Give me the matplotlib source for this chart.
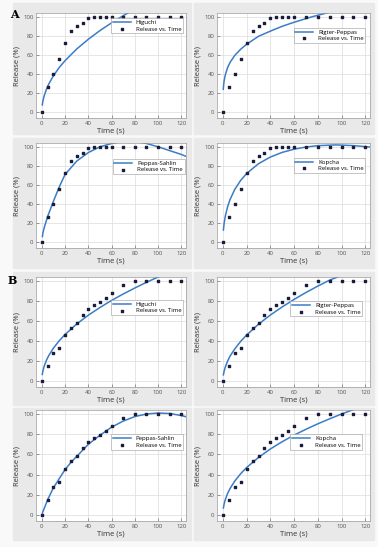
import matplotlib
matplotlib.use('Agg')
import matplotlib.pyplot as plt
from matplotlib.patches import Rectangle

plt.rcParams['font.family'] = ['Open Sans', 'DejaVu Sans']

# measured release data
t_data = [0, 5, 10, 15, 20, 25, 30, 35, 40, 45, 50, 55, 60, 70, 80, 90, 100, 110, 120]
rel_A = [0, 26, 40, 56, 73, 85, 90, 94, 99, 100, 100, 100, 100, 100, 100, 100, 100, 100, 100]
rel_B = [0, 15, 28, 33, 46, 53, 58, 66, 72, 76, 79, 83, 88, 96, 100, 100, 100, 100, 100]

# fitted curves
higA_t = [0.4, 1, 2, 4, 6, 10, 15, 20, 30, 40, 50, 60, 70, 77]
higA_y = [7.7, 12.1, 17.1, 24.2, 29.6, 38.3, 46.9, 54.1, 66.3, 76.5, 85.6, 93.7, 101.2, 106]
rpA_t = [0.3, 0.6, 1, 2, 4, 6, 10, 15, 20, 30, 40, 50, 60, 75, 90]
rpA_y = [24.1, 28.8, 32.9, 39.3, 47.0, 52.2, 59.6, 66.1, 71.3, 79.6, 85.0, 90.1, 94.3, 100, 104.8]
psA_t = [0.5, 1, 2, 5, 10, 15, 20, 30, 40, 50, 60, 70, 80, 90, 100, 110, 120, 125]
psA_y = [6, 10, 15, 27, 43, 58, 71, 85, 94, 100, 103.5, 105.5, 105.5, 103.5, 100, 96, 92, 89.5]
kopA_t = [0.4, 1, 2, 4, 6, 10, 15, 20, 30, 40, 50, 60, 70, 80, 95, 110, 125]
kopA_y = [12.8, 19.8, 27.4, 37.5, 44.8, 55.4, 64.9, 72.1, 82.3, 89.3, 94.2, 97.5, 99.8, 101.2, 102, 101.3, 99.7]

higB_t = [0.4, 1, 2, 4, 6, 10, 15, 20, 30, 40, 50, 60, 70, 80, 90, 101]
higB_y = [6.6, 10.4, 14.7, 20.8, 25.5, 32.9, 40.3, 46.5, 57.0, 65.8, 73.5, 80.6, 87.0, 93.0, 98.7, 104.5]
rpB_t = [0.4, 1, 2, 4, 6, 10, 15, 20, 30, 40, 50, 60, 70, 80, 90, 101]
rpB_y = [6.1, 9.8, 14.0, 20.1, 24.9, 32.1, 39.7, 46.0, 56.8, 66.0, 74.1, 81.6, 88.5, 94.9, 100.9, 106]
psB_t = [0.5, 5, 10, 15, 20, 25, 30, 40, 50, 60, 70, 80, 90, 100, 110, 120, 125]
psB_y = [2, 15, 27, 36, 45, 52, 58, 70, 79, 87, 93, 97.5, 100, 101, 100.5, 98.5, 97]
kopB_t = [0.4, 1, 2, 4, 6, 10, 15, 20, 30, 40, 50, 60, 70, 80, 90, 100, 110]
kopB_y = [6.9, 10.8, 15.3, 21.5, 26.2, 33.6, 40.9, 47.0, 57.0, 65.4, 72.6, 79.1, 84.9, 90.3, 95.3, 100, 104.4]

panels = [
    ('Higuchi', higA_t, higA_y, rel_A),
    ('Rigter-Peppas', rpA_t, rpA_y, rel_A),
    ('Peppas-Sahlin', psA_t, psA_y, rel_A),
    ('Kopcha', kopA_t, kopA_y, rel_A),
    ('Higuchi', higB_t, higB_y, rel_B),
    ('Rigter-Peppas', rpB_t, rpB_y, rel_B),
    ('Peppas-Sahlin', psB_t, psB_y, rel_B),
    ('Kopcha', kopB_t, kopB_y, rel_B),
]
# legend upper-right corner in axes fractions
leg_anchor = [(0.98, 0.95), (0.97, 0.86), (0.99, 0.85), (0.97, 0.86),
              (0.98, 0.79), (0.95, 0.78), (0.98, 0.78), (0.95, 0.78)]

W, H = 378, 547
fig = plt.figure(figsize=(W / 100, H / 100), dpi=100)
fig.patch.set_facecolor('#f9f9f9')

# pixel layout: (top, bottom) of axes and of the grey boxes per row
rows_ax = [(13, 118), (143, 248), (277, 387), (410, 521)]
rows_box = [(3, 134), (138, 268), (272, 405), (408, 540)]
cols_ax = [(36, 186), (217, 370)]
cols_box = [(13, 191), (194, 374)]

for i, (name, ct, cy, rel) in enumerate(panels):
    r, c = divmod(i, 2)
    bt, bb = rows_box[r]
    bl, br = cols_box[c]
    fig.patches.append(Rectangle((bl / W, 1 - bb / H), (br - bl) / W, (bb - bt) / H,
                                 transform=fig.transFigure, color='#e9e9e9', zorder=-10))
    at, ab = rows_ax[r]
    al, ar = cols_ax[c]
    ax = fig.add_axes([al / W, 1 - ab / H, (ar - al) / W, (ab - at) / H])
    ax.set_facecolor('white')
    ax.plot(ct, cy, color='#3a7dc6', lw=1.1, label=name)
    ax.scatter(t_data, rel, s=2.5, marker='s', color='#1c1c3c', label='Release vs. Time', zorder=3)
    ax.set_xlim(-5, 124)
    ax.set_ylim(-6, 104)
    ax.set_xticks(range(0, 121, 20))
    ax.set_yticks(range(0, 101, 20))
    ax.grid(True, color='#dcdcdc', lw=0.5)
    ax.tick_params(labelsize=4.3, colors='#555555', length=2, width=0.4, direction='in', pad=2)
    for s in ax.spines.values():
        s.set_color('#9a9a9a')
        s.set_linewidth(0.5)
    ax.set_xlabel('Time (s)', fontsize=5.5, color='#333333', labelpad=1)
    ax.set_ylabel('Release (%)', fontsize=5.5, color='#333333', labelpad=1.5)
    leg = ax.legend(loc='upper right', bbox_to_anchor=leg_anchor[i], fontsize=4.3,
                    frameon=True, fancybox=False, handlelength=3, borderpad=0.3,
                    labelspacing=0.2, borderaxespad=0, framealpha=1)
    leg.get_frame().set_edgecolor('#999999')
    leg.get_frame().set_linewidth(0.4)

fig.text(10 / W, 1 - 15 / H, 'A', fontsize=8, fontweight='bold', family='DejaVu Serif', va='center')
fig.text(8 / W, 1 - 280 / H, 'B', fontsize=8, fontweight='bold', family='DejaVu Serif', va='center')

fig.savefig('out.png', dpi=100, facecolor=fig.get_facecolor())
